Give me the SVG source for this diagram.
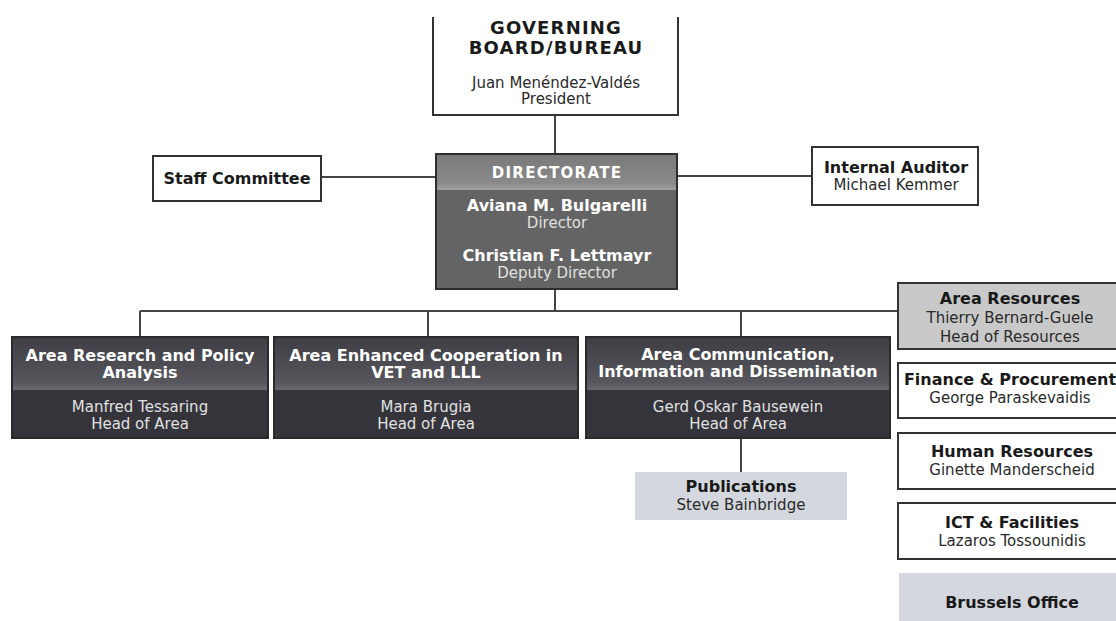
<svg xmlns="http://www.w3.org/2000/svg" width="1116" height="621" viewBox="0 0 1116 621">
<defs>
<linearGradient id="gDirHead" x1="0" y1="0" x2="0" y2="1">
<stop offset="0" stop-color="#7a7a7a"/><stop offset="0.8" stop-color="#8a8a8a"/><stop offset="1" stop-color="#a0a0a0"/>
</linearGradient>
<linearGradient id="gAreaHead" x1="0" y1="0" x2="0" y2="1">
<stop offset="0" stop-color="#3e3e44"/><stop offset="0.85" stop-color="#56565c"/><stop offset="1" stop-color="#6a6a70"/>
</linearGradient>
<style>
.t{font-family:"DejaVu Sans","Verdana",sans-serif;text-anchor:middle}
.b{font-weight:bold;font-size:16px}
.r{font-size:15px}
.dk{fill:#1a1a1a}
.rg{fill:#2a2a2a}
.w{fill:#ffffff}
.lt{fill:#e0e0e0}
.box{fill:#ffffff;stroke:#333333;stroke-width:2}
.area{stroke:#2a2a2a;stroke-width:2}
.ln{stroke:#444444;stroke-width:2;fill:none}
</style>
</defs>
<rect width="1116" height="621" fill="#ffffff"/>
<g id="connectors">
<line class="ln" x1="555" y1="115" x2="555" y2="155"/>
<line class="ln" x1="321" y1="177" x2="436" y2="177"/>
<line class="ln" x1="677" y1="176" x2="812" y2="176"/>
<line class="ln" x1="555" y1="289" x2="555" y2="311"/>
<line class="ln" x1="140" y1="311" x2="898" y2="311" stroke-width="2.5"/>
<line class="ln" x1="140" y1="311" x2="140" y2="338"/>
<line class="ln" x1="428" y1="311" x2="428" y2="338"/>
<line class="ln" x1="741" y1="311" x2="741" y2="338"/>
<line class="ln" x1="741" y1="438" x2="741" y2="472"/>
</g>
<g id="governing-board">
<path d="M433 17 V115 H678 V17" fill="#ffffff" stroke="#333333" stroke-width="2"/>
<text class="t dk" x="556" y="34" font-size="18" font-weight="bold" letter-spacing="1.2">GOVERNING</text>
<text class="t dk" x="556" y="54" font-size="18" font-weight="bold" letter-spacing="1.2">BOARD/BUREAU</text>
<text class="t r rg" x="556" y="88">Juan Menéndez-Valdés</text>
<text class="t r rg" x="556" y="104">President</text>
</g>
<g id="staff-committee">
<rect class="box" x="153" y="156" width="168" height="45"/>
<text class="t b dk" x="237" y="184">Staff Committee</text>
</g>
<g id="internal-auditor">
<rect class="box" x="812" y="147" width="166" height="58"/>
<text class="t b dk" x="896" y="173">Internal Auditor</text>
<text class="t r rg" x="896" y="190">Michael Kemmer</text>
</g>
<g id="directorate">
<rect x="436" y="154" width="241" height="135" fill="#646464" stroke="#2e2e2e" stroke-width="2"/>
<rect x="437" y="155" width="239" height="35" fill="url(#gDirHead)"/>
<text class="t w" x="557" y="178" font-size="15" font-weight="bold" letter-spacing="1.3">DIRECTORATE</text>
<text class="t b w" x="557" y="211">Aviana M. Bulgarelli</text>
<text class="t r lt" x="557" y="228">Director</text>
<text class="t b w" x="557" y="261">Christian F. Lettmayr</text>
<text class="t r lt" x="557" y="278">Deputy Director</text>
</g>
<g id="area-research">
<rect class="area" x="12" y="337" width="256" height="101" fill="#34343a"/>
<rect x="13" y="338" width="254" height="52" fill="url(#gAreaHead)"/>
<text class="t b w" x="140" y="361">Area Research and Policy</text>
<text class="t b w" x="140" y="378">Analysis</text>
<text class="t r lt" x="140" y="412">Manfred Tessaring</text>
<text class="t r lt" x="140" y="429">Head of Area</text>
</g>
<g id="area-cooperation">
<rect class="area" x="274" y="337" width="304" height="101" fill="#34343a"/>
<rect x="275" y="338" width="302" height="52" fill="url(#gAreaHead)"/>
<text class="t b w" x="426" y="361">Area Enhanced Cooperation in</text>
<text class="t b w" x="426" y="378">VET and LLL</text>
<text class="t r lt" x="426" y="412">Mara Brugia</text>
<text class="t r lt" x="426" y="429">Head of Area</text>
</g>
<g id="area-communication">
<rect class="area" x="586" y="337" width="304" height="101" fill="#34343a"/>
<rect x="587" y="338" width="302" height="52" fill="url(#gAreaHead)"/>
<text class="t b w" x="738" y="360">Area Communication,</text>
<text class="t b w" x="738" y="377">Information and Dissemination</text>
<text class="t r lt" x="738" y="412">Gerd Oskar Bausewein</text>
<text class="t r lt" x="738" y="429">Head of Area</text>
</g>
<g id="publications">
<rect x="635" y="472" width="212" height="48" fill="#d4d8de"/>
<text class="t b dk" x="741" y="492">Publications</text>
<text class="t r rg" x="741" y="510">Steve Bainbridge</text>
</g>
<g id="area-resources">
<rect x="898" y="283" width="230" height="66" fill="#c9c9c9" stroke="#333333" stroke-width="2"/>
<text class="t b dk" x="1010" y="304">Area Resources</text>
<text class="t r rg" x="1010" y="323">Thierry Bernard-Guele</text>
<text class="t r rg" x="1010" y="342">Head of Resources</text>
</g>
<g id="finance">
<rect class="box" x="898" y="363" width="230" height="55"/>
<text class="t b dk" x="1010" y="385">Finance &amp; Procurement</text>
<text class="t r rg" x="1010" y="403">George Paraskevaidis</text>
</g>
<g id="human-resources">
<rect class="box" x="898" y="433" width="230" height="56"/>
<text class="t b dk" x="1012" y="457">Human Resources</text>
<text class="t r rg" x="1012" y="475">Ginette Manderscheid</text>
</g>
<g id="ict">
<rect class="box" x="898" y="503" width="230" height="56"/>
<text class="t b dk" x="1012" y="528">ICT &amp; Facilities</text>
<text class="t r rg" x="1012" y="546">Lazaros Tossounidis</text>
</g>
<g id="brussels">
<rect x="899" y="573" width="230" height="60" fill="#d4d8de"/>
<text class="t b dk" x="1012" y="608">Brussels Office</text>
</g>
</svg>
